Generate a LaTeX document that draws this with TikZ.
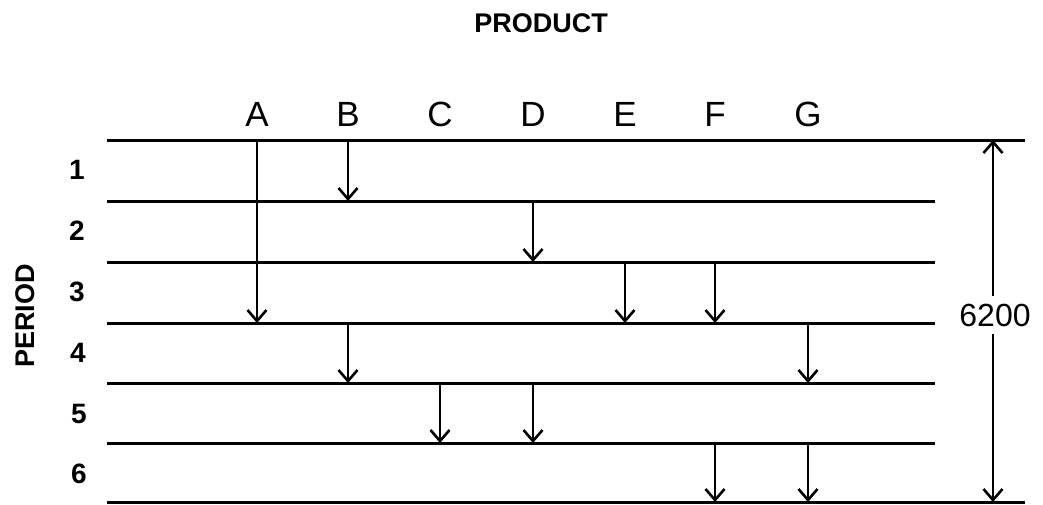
\documentclass[tikz,border=0pt]{standalone}
\usepackage{fontspec}
\setmainfont{Liberation Sans}
\usetikzlibrary{arrows.meta}
\begin{document}
\begin{tikzpicture}[x=1pt,y=-1pt,
  hline/.style={line width=3pt},
  flow/.style={line width=2.6pt,-{Straight Barb[length=11pt,width=19pt,line width=2.6pt]}},
  col/.style={font=\fontsize{35}{38}\selectfont, inner sep=0pt},
  per/.style={font=\fontsize{28}{32}\selectfont\bfseries, inner sep=0pt},
  ttl/.style={font=\fontsize{27}{30}\selectfont\bfseries, inner sep=0pt},
  dim/.style={font=\fontsize{32}{36}\selectfont, inner sep=0pt, fill=white}]
\useasboundingbox (0,0) rectangle (1043,504);
% period boundaries
\coordinate (L0) at (107,140); \coordinate (R0) at (1025,140);
\coordinate (L1) at (107,201); \coordinate (R1) at (935,201);
\coordinate (L2) at (107,262); \coordinate (R2) at (935,262);
\coordinate (L3) at (107,323); \coordinate (R3) at (935,323);
\coordinate (L4) at (107,383); \coordinate (R4) at (935,383);
\coordinate (L5) at (107,443); \coordinate (R5) at (935,443);
\coordinate (L6) at (107,502); \coordinate (R6) at (1025,502);
\foreach \i in {0,...,6} {\draw[hline] (L\i) -- (R\i);}
% titles
\node[ttl] (prod) at (541,23) {PRODUCT};
\node[ttl, rotate=90] (period) at (25,316) {PERIOD};
% product columns
\node[col] (A) at (257,114) {A};
\node[col] (B) at (348,114) {B};
\node[col] (C) at (440,114) {C};
\node[col] (D) at (533,114) {D};
\node[col] (E) at (625,114) {E};
\node[col] (F) at (715,114) {F};
\node[col] (G) at (808,114) {G};
% period numbers
\node[per] (p1) at (77,170) {1};
\node[per] (p2) at (77,231) {2};
\node[per] (p3) at (77,292) {3};
\node[per] (p4) at (78,353) {4};
\node[per] (p5) at (79,414) {5};
\node[per] (p6) at (79,474) {6};
% flows
\draw[flow] (A |- L0) -- (A |- L3);
\draw[flow] (B |- L0) -- (B |- L1);
\draw[flow] (D |- L1) -- (D |- L2);
\draw[flow] (E |- L2) -- (E |- L3);
\draw[flow] (F |- L2) -- (F |- L3);
\draw[flow] (B |- L3) -- (B |- L4);
\draw[flow] (G |- L3) -- (G |- L4);
\draw[flow] (C |- L4) -- (C |- L5);
\draw[flow] (D |- L4) -- (D |- L5);
\draw[flow] (F |- L5) -- (F |- L6);
\draw[flow] (G |- L5) -- (G |- L6);
% dimension
\coordinate (dt) at (993,140);
\coordinate (db) at (993,502);
\node[dim, inner ysep=7pt] (total) at (995,315) {6200};
\draw[flow] (total.north -| dt) -- (dt);
\draw[flow] (total.south -| db) -- (db);
\end{tikzpicture}
\end{document}
